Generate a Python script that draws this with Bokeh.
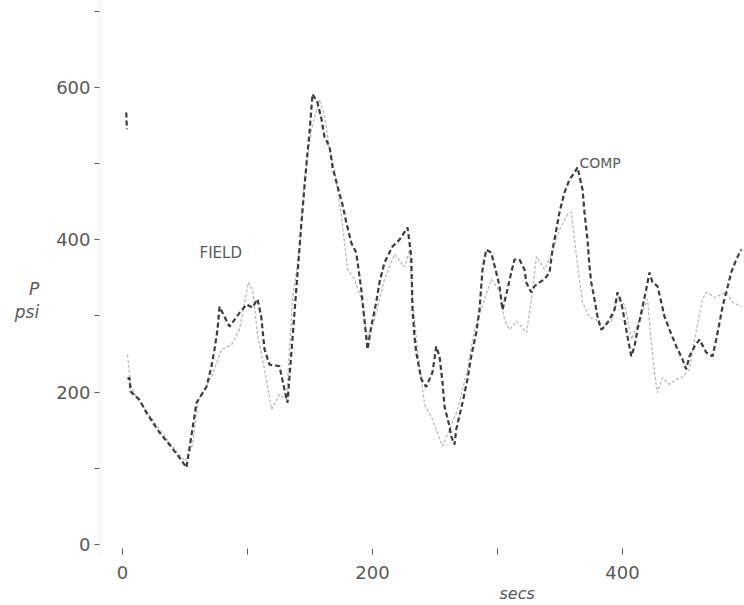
from bokeh.plotting import figure
from bokeh.models import FixedTicker, Label, Range1d, Title
from bokeh.embed import file_html
from bokeh.resources import INLINE

nan = float("nan")

# Dark dashed trace (COMP) - time in secs, pressure in psi
comp_t = [3, 3.5, nan,
          4, 5.6, 6.4, 9.6, 13.6, 19.2, 29.6, 37.6, 45.6, 51.2, 59.2, 67.2, 71.2, 73.6, 76, 77.6,
          81.6, 85.6, 93.6, 99.2, 104, 108, 111, 113.6, 117.6, 125.6, 129.6, 132, 143.2, 145.6,
          148, 149.6, 152, 156, 159.2, 161.6, 165.6, 167.2, 168, 176, 179, 183, 187, 189.6, 191,
          196, 199, 203, 205.6, 209.6, 216, 221.6, 228, 229.6, 231, 231.5, 232, 233.6, 235, 239,
          243, 248, 251, 253.6, 256, 257.6, 261.6, 263, 265.6, 267, 272, 276, 279, 283, 285.6,
          288, 291, 295, 299, 301.6, 304, 308, 311, 313.6, 317.6, 321.6, 323, 327, 329.6, 333.6,
          337.6, 341.6, 344, 346, 349.6, 353.6, 357.6, 361.6, 364, 368, 369.6, 372, 373.6, 375,
          377.6, 380, 383, 385.6, 389.6, 393.6, 396, 399, 401.6, 404, 407, 409.6, 412, 415, 419,
          421.6, 424, 428, 431, 433.6, 437.6, 443, 448, 451, 453.6, 457.6, 461.6, 467, 472, 475,
          477.6, 480, 483, 487, 491, 495]
comp_p = [567, 545, nan,
          217, 219, 201, 196, 190, 173, 147, 131, 114, 101, 186, 207, 234, 256, 282, 312,
          299, 286, 304, 315, 311, 322, 299, 256, 236, 234, 203, 186, 423, 470,
          514, 541, 591, 580, 558, 535, 522, 505, 495, 446, 423, 396, 383, 352, 335,
          256, 286, 318, 344, 370, 391, 400, 416, 396, 378, 344, 308, 273, 252, 217,
          207, 226, 260, 247, 213, 181, 155, 142, 131, 151, 186, 217, 247, 278, 308,
          361, 387, 383, 357, 339, 308, 335, 357, 374, 374, 361, 344, 331, 339, 344,
          348, 357, 387, 404, 436, 462, 479, 488, 495, 466, 436, 400, 365, 344,
          322, 299, 282, 286, 295, 308, 331, 318, 295, 273, 247, 260, 282, 304, 335,
          357, 344, 339, 318, 299, 282, 260, 243, 230, 247, 260, 269, 252, 247, 269,
          291, 312, 331, 357, 374, 387]

# Light trace (FIELD)
field_t = [4, 6.4, 11.2, 19.2, 29.6, 41.6, 50.4, 56, 60.8, 65.6, 72, 79.2, 87.2, 93.6, 100.8,
           104, 108, 113.6, 119.2, 125.6, 131.2, 136, 141.6, 145.6, 151.2, 157.6, 161.6, 165.6,
           169.6, 176, 180, 185.6, 191.2, 196, 201.6, 209.6, 217.6, 225.6, 229.6, 232, 236,
           241.6, 248, 256, 261.6, 268, 276, 281.6, 289.6, 295.2, 301.6, 305.6, 309.6, 315.2,
           319.2, 323.2, 327.2, 331.2, 337.6, 343.2, 349.6, 356, 359.2, 361.6, 364, 368, 373.6,
           379.2, 383.2, 387.2, 391.2, 396, 401.6, 407.2, 413.6, 420, 423.2, 425.6, 428, 432,
           437.6, 443.2, 448, 453.6, 459.2, 464, 467.2, 473.6, 483.2, 488, 495.2]
field_p = [249, 210, 193, 175, 151, 125, 109, 131, 190, 203, 223, 256, 262, 282, 344,
           335, 276, 230, 177, 197, 190, 322, 387, 479, 545, 584, 562, 518,
           492, 420, 361, 348, 322, 269, 295, 348, 381, 364, 387, 322, 256,
           184, 164, 129, 151, 177, 230, 282, 322, 348, 332, 295, 282, 293,
           286, 278, 322, 378, 361, 381, 413, 433, 436, 400, 367, 318, 298,
           295, 282, 289, 293, 322, 315, 269, 295, 322, 262, 226, 199, 219,
           210, 217, 220, 230, 282, 322, 331, 324, 331, 318, 312]

y_major = [0, 200, 400, 600]
y_minor = [100, 300, 500, 700]
x_major = [0, 200, 400]
x_minor = [100, 300]

TXT = "#5a5a5a"

p = figure(width=743, height=604, output_backend="svg", toolbar_location=None,
           x_range=Range1d(-18.4, 496.8), y_range=Range1d(-13.1, 713.9),
           min_border_left=99, min_border_right=0, min_border_top=0, min_border_bottom=50)
p.outline_line_color = None
p.grid.grid_line_color = None
p.background_fill_color = "white"
p.border_fill_color = "white"

p.line(field_t, field_p, line_color="#a8a8a8", line_width=1.2, line_dash="3 2", line_alpha=0.85)
p.line(comp_t, comp_p, line_color="#3c3c3c", line_width=2.2, line_dash="5 3")

# y axis
ya = p.yaxis[0]
ya.ticker = FixedTicker(ticks=y_major, minor_ticks=y_minor)
ya.axis_line_color = "#d0d0d0"
ya.axis_line_dash = "1 3"
ya.major_tick_out = 5
ya.major_tick_in = 0
ya.minor_tick_out = 5
ya.minor_tick_in = 0
ya.major_tick_line_color = TXT
ya.minor_tick_line_color = TXT
ya.major_label_text_font = "DejaVu Sans"
ya.major_label_text_font_size = "18px"
ya.major_label_text_color = TXT
ya.major_label_standoff = 4
ya.axis_label = "\n\nP\npsi"
ya.axis_label_orientation = "horizontal"
ya.axis_label_text_font = "DejaVu Sans"
ya.axis_label_text_font_size = "17px"
ya.axis_label_text_font_style = "italic"
ya.axis_label_text_color = TXT
ya.axis_label_text_align = "center"
ya.axis_label_text_line_height = 1.15
ya.axis_label_standoff = 14

# x axis
xa = p.xaxis[0]
xa.ticker = FixedTicker(ticks=x_major, minor_ticks=x_minor)
xa.axis_line_color = None
xa.major_tick_in = 6
xa.major_tick_out = 0
xa.minor_tick_in = 6
xa.minor_tick_out = 0
xa.major_tick_line_color = TXT
xa.minor_tick_line_color = TXT
xa.major_label_text_font = "DejaVu Sans"
xa.major_label_text_font_size = "18px"
xa.major_label_text_color = TXT
xa.major_label_standoff = 11

p.add_layout(Title(text="secs", align="left", offset=400, standoff=0,
                   text_font="DejaVu Sans", text_font_size="16px", text_font_style="italic",
                   text_color=TXT), "below")

def lab(x, y, text, size):
    p.add_layout(Label(x=x, y=y, text=text, text_font="DejaVu Sans", text_font_size=size,
                       text_color=TXT, text_align="left", text_baseline="middle"))

lab(61.6, 383, "FIELD", "15px")
lab(365.6, 501, "COMP", "14px")

open("out.html", "w").write(file_html(p, INLINE))
